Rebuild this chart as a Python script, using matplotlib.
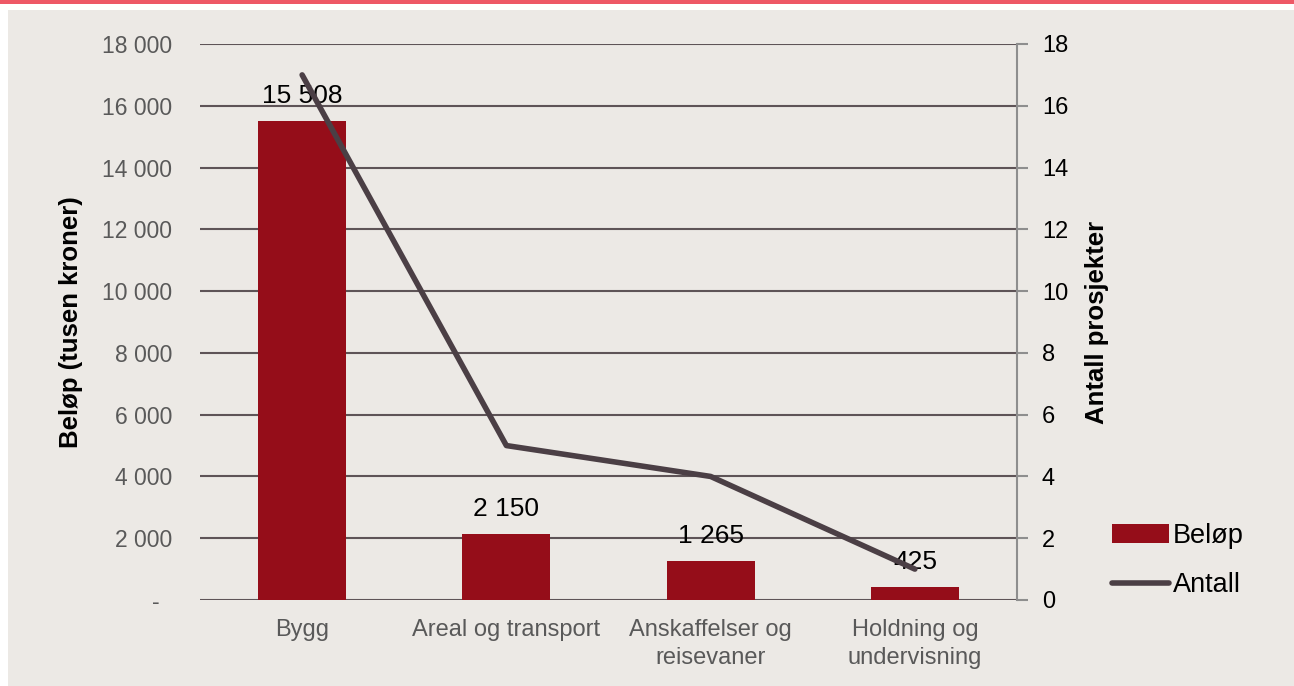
import matplotlib.pyplot as plt
from matplotlib.patches import Rectangle
from matplotlib.ticker import FuncFormatter

plt.rcParams['font.family'] = ['Liberation Sans', 'DejaVu Sans']

# Data
categories = ["Bygg", "Areal og transport", "Anskaffelser og\nreisevaner", "Holdning og\nundervisning"]
belop = [15508, 2150, 1265, 425]
antall = [17, 5, 4, 1]
belop_labels = ["15 508", "2 150", "1 265", "425"]

bg = '#ECE9E5'
bar_col = '#950D19'
line_col = '#4B3F45'
grid_col = '#5E5457'

fig = plt.figure(figsize=(12.94, 6.86), dpi=100)
fig.patch.set_facecolor('white')
# red strip on top and beige panel
fig.add_artist(Rectangle((0, 1 - 4 / 686), 1, 4 / 686, transform=fig.transFigure,
                         facecolor='#EE5866', edgecolor='none'))
fig.add_artist(Rectangle((8 / 1294, 0), 1, 1 - 10 / 686, transform=fig.transFigure,
                         facecolor=bg, edgecolor='none', zorder=0))

ax = fig.add_axes([200 / 1294, 1 - 600 / 686, 817 / 1294, 556 / 686])
ax.set_facecolor('none')
x = range(len(categories))
ax.bar(x, belop, width=0.43, color=bar_col, zorder=2)
ax.set_xlim(-0.5, 3.5)
ax.set_ylim(0, 18000)
ax.set_yticks(range(0, 18001, 2000))
ax.yaxis.set_major_formatter(FuncFormatter(
    lambda v, p: '-  ' if v == 0 else f"{int(v):,}".replace(",", " ")))
ax.grid(axis='y', color=grid_col, linewidth=1.5, zorder=1)
ax.set_axisbelow(True)
for s in ax.spines.values():
    s.set_visible(False)
ax.tick_params(axis='both', length=0, labelcolor='#595959')
ax.tick_params(axis='y', pad=20, labelsize=16.5)
ax.tick_params(axis='x', pad=14, labelsize=17)
ax.set_xticks(list(x))
ax.set_xticklabels(categories, linespacing=1.35)
ax.set_ylabel("Beløp (tusen kroner)", fontsize=18.5, fontweight='bold', labelpad=14)

for i, (v, lab) in enumerate(zip(belop, belop_labels)):
    ax.text(i, v + 420, lab, ha='center', va='bottom', fontsize=19, color='black', zorder=3)

ax2 = ax.twinx()
ax2.plot(list(x), antall, color=line_col, linewidth=4, solid_capstyle='round', zorder=4)
ax2.set_ylim(0, 18)
ax2.set_yticks(range(0, 19, 2))
for s in ['top', 'left', 'bottom']:
    ax2.spines[s].set_visible(False)
ax2.spines['right'].set_color('#8E8E8E')
ax2.spines['right'].set_linewidth(1.5)
ax2.tick_params(axis='y', direction='out', length=8, width=1.5, color='#8E8E8E',
                labelsize=17, labelcolor='black', pad=10)
ax2.set_ylabel("Antall prosjekter", fontsize=18.5, fontweight='bold', labelpad=12)

handles = [Rectangle((0, 0), 1, 1, facecolor=bar_col, edgecolor='none'),
           plt.Line2D([0], [0], color=line_col, linewidth=4, solid_capstyle='round')]
fig.legend(handles, ["Beløp", "Antall"], loc='upper left',
           bbox_to_anchor=(1112 / 1294, 1 - 523 / 686), frameon=False, fontsize=19.5,
           borderaxespad=0, borderpad=0,
           handlelength=2.1, handletextpad=0.15, labelspacing=0.85)

fig.savefig("out.png", dpi=100, facecolor=fig.get_facecolor())
